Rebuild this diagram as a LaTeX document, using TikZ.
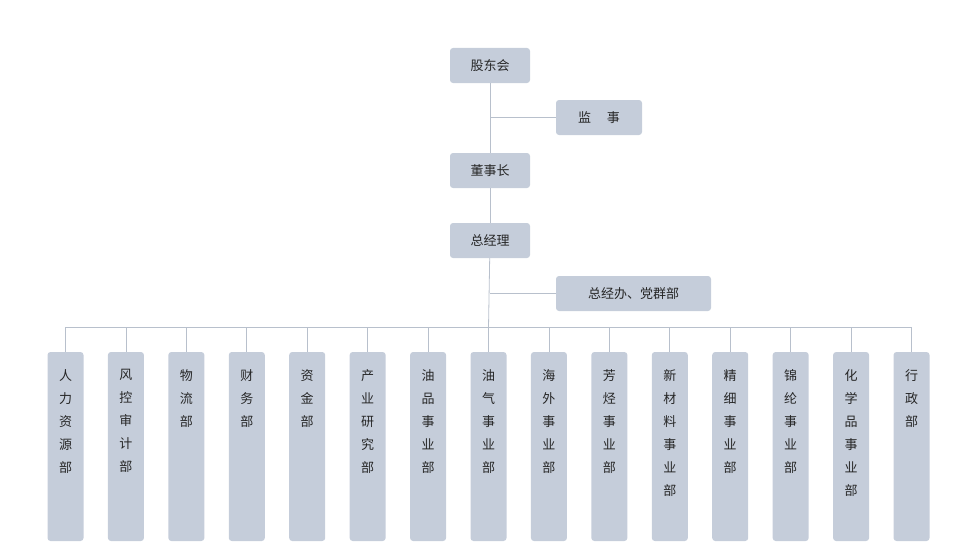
\documentclass[tikz,border=0pt]{standalone}
\usepackage{fontspec}
\newfontfamily\cjk{Noto Sans CJK SC}
\begin{document}
\begin{tikzpicture}[x=1pt,y=-1pt,
  box/.style={fill=boxc,rounded corners=3pt,inner sep=0pt,font=\cjk\fontsize{13}{13}\selectfont,text=black!85},
  ln/.style={draw=linec,line width=0.8pt}]
\definecolor{boxc}{HTML}{C5CDDA}
\definecolor{linec}{HTML}{B8C0CC}
\useasboundingbox (0,0) rectangle (979,551);
\node[box,minimum width=80pt,minimum height=35pt] (gd) at (490,65.5) {股东会};
\node[box,minimum width=86pt,minimum height=35pt] (js) at (599,117.5) {监\hspace{1.2em}事};
\node[box,minimum width=80pt,minimum height=35pt] (dsz) at (490,170.5) {董事长};
\node[box,minimum width=80pt,minimum height=35pt] (zjl) at (490,240.5) {总经理};
\node[box,minimum width=155pt,minimum height=35pt] (zjb) at (633.5,293.5) {总经办、党群部};
\coordinate (c1) at (490,117.5);
\coordinate (c2) at (490,293.5);
\draw[ln] (gd) -- (dsz);
\draw[ln] (c1) -- (js.west);
\draw[ln] (dsz) -- (zjl);
\draw[ln] (c2) -- (zjb.west);
\coordinate (bl) at (65.5,327);
\coordinate (br) at (911.5,327);
\draw[ln] (bl) -- (br);
\def\names{{"人\\力\\资\\源\\部","风\\控\\审\\计\\部","物\\流\\部","财\\务\\部","资\\金\\部","产\\业\\研\\究\\部","油\\品\\事\\业\\部","油\\气\\事\\业\\部","海\\外\\事\\业\\部","芳\\烃\\事\\业\\部","新\\材\\料\\事\\业\\部","精\\细\\事\\业\\部","锦\\纶\\事\\业\\部","化\\学\\品\\事\\业\\部","行\\政\\部"}}
\foreach \i/\t in {0/人\\力\\资\\源\\部,1/风\\控\\审\\计\\部,2/物\\流\\部,3/财\\务\\部,4/资\\金\\部,5/产\\业\\研\\究\\部,6/油\\品\\事\\业\\部,7/油\\气\\事\\业\\部,8/海\\外\\事\\业\\部,9/芳\\烃\\事\\业\\部,10/新\\材\\料\\事\\业\\部,11/精\\细\\事\\业\\部,12/锦\\纶\\事\\业\\部,13/化\\学\\品\\事\\业\\部,14/行\\政\\部}{
  \pgfmathsetmacro\xx{65.5+\i*60.43}
  \node[box,minimum width=36pt,minimum height=189pt] (d\i) at (\xx,446.5) {};
  \node[font=\cjk\fontsize{13}{23}\selectfont,align=center,anchor=north,text=black!85] (t\i) at (\xx,366) {\t};
  \coordinate (s\i) at (\xx,327);
  \draw[ln] (s\i) -- (d\i.north);
}
\draw[ln] (zjl) -- (s7);
\end{tikzpicture}
\end{document}
